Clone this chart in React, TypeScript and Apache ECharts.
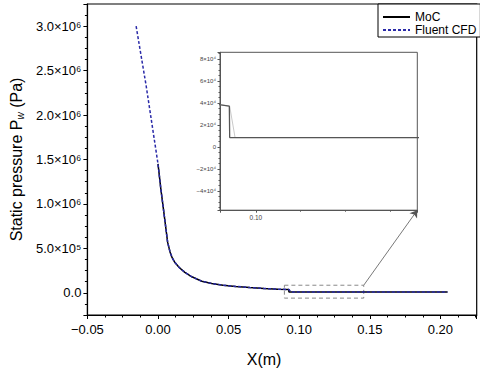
import React, { useEffect, useRef } from "react";
import * as echarts from "echarts";

// MoC (Method of Characteristics) wall pressure
const mocX = [0, 0.002, 0.0045, 0.0068, 0.0085, 0.01, 0.012, 0.015, 0.019, 0.024, 0.031, 0.038, 0.046, 0.055, 0.065, 0.075, 0.085, 0.0926, 0.0927, 0.205];
const mocP = [1.45e6, 1.17e6, 8.6e5, 5.7e5, 4.6e5, 3.95e5, 3.4e5, 2.85e5, 2.3e5, 1.8e5, 1.3e5, 1.05e5, 8.6e4, 7.2e4, 5.9e4, 4.9e4, 4.1e4, 3.7e4, 8.5e3, 8.5e3];
// Fluent CFD wall pressure
const cfdX = [-0.0155, -0.0084, 0, 0.002, 0.0045, 0.0068, 0.0085, 0.01, 0.012, 0.015, 0.019, 0.024, 0.031, 0.038, 0.046, 0.055, 0.065, 0.075, 0.085, 0.0927, 0.0942, 0.205];
const cfdP = [3.0e6, 2.33e6, 1.45e6, 1.17e6, 8.6e5, 5.7e5, 4.6e5, 3.95e5, 3.4e5, 2.85e5, 2.3e5, 1.8e5, 1.3e5, 1.05e5, 8.6e4, 7.2e4, 5.9e4, 4.9e4, 4.1e4, 3.7e4, 8.5e3, 8.5e3];
// zoomed region (dashed box)
const zoomBoxX = [0.0895, 0.1457, 0.1457, 0.0895, 0.0895];
const zoomBoxP = [8.5e4, 8.5e4, -6.0e4, -6.0e4, 8.5e4];
// axis extents
const mainXRange = [-0.05, 0.2257];
const mainPRange = [-2.5e5, 3.25e6];
const insetXRange = [0.09, 0.145];
const insetPRange = [-5.75e4, 8.6e4];
const legendNames = ["MoC", "Fluent CFD"];

const SUP: Record<string, string> = { "0": "⁰", "1": "¹", "2": "²", "3": "³", "4": "⁴", "5": "⁵", "6": "⁶", "7": "⁷", "8": "⁸", "9": "⁹", "-": "⁻" };
const sup = (n: number) => String(n).split("").map((c) => SUP[c] || c).join("");

const zip = (xs: number[], ys: number[]) => xs.map((x, i) => [x, ys[i]]);

function mainYLabel(v: number) {
  if (Math.abs(v) < 1e-9) return "0.0";
  const e = Math.floor(Math.log10(Math.abs(v)) + 1e-9);
  const m = v / Math.pow(10, e);
  return m.toFixed(1) + "×10" + sup(e);
}
function insetYLabel(v: number) {
  if (Math.abs(v) < 1e-9) return "0";
  const m = Math.round(v / 1e4);
  return (m < 0 ? "−" + Math.abs(m) : String(m)) + "×10⁴";
}
function xLabel(v: number) {
  return v < 0 ? "−" + Math.abs(v).toFixed(2) : v.toFixed(2);
}

export default function App() {
  const ref = useRef<HTMLDivElement>(null);
  useEffect(() => {
    if (!ref.current) return;
    const chart = echarts.init(ref.current, null, { renderer: "svg" });
    const font = "'Liberation Sans', Arial, sans-serif";
    const option: any = {
      animation: false,
      textStyle: { fontFamily: font },
      legend: {
        data: legendNames,
        orient: "vertical",
        left: 378,
        top: 4,
        itemWidth: 27,
        itemHeight: 12,
        itemGap: 1,
        padding: [7, 4, 1, 4],
        borderColor: "#000",
        borderWidth: 1,
        backgroundColor: "#fff",
        itemStyle: { opacity: 0 },
        textStyle: { fontSize: 12, color: "#000", fontFamily: font },
      },
      grid: [
        { left: 83, top: 4, right: 3.3, bottom: 51.5, show: true, borderColor: "#000", borderWidth: 1.2, backgroundColor: "transparent" },
        { left: 220, top: 52.3, right: 62.7, bottom: 161.8, show: true, borderColor: "#555", borderWidth: 1, backgroundColor: "#fff" },
      ],
      xAxis: [
        {
          type: "value", gridIndex: 0, min: mainXRange[0], max: mainXRange[1], interval: 0.05,
          axisLine: { show: true, onZero: false, lineStyle: { color: "#000", width: 1.2 } },
          axisTick: { show: true, length: 4, lineStyle: { color: "#000" } },
          minorTick: { show: true, splitNumber: 4, length: 2.5, lineStyle: { color: "#000" } },
          splitLine: { show: false },
          axisLabel: { fontSize: 13, color: "#000", margin: 8, showMaxLabel: false, formatter: xLabel, fontFamily: font },
          name: "X(m)", nameLocation: "middle", nameGap: 36,
          nameTextStyle: { fontSize: 16, color: "#000", padding: [0, 36, 0, 0], fontFamily: font },
        },
        {
          type: "value", gridIndex: 1, min: insetXRange[0], max: insetXRange[1], splitNumber: 1,
          axisLine: { show: true, onZero: false, lineStyle: { color: "#555", width: 1 } },
          axisTick: { show: true, length: 2.5, lineStyle: { color: "#555" } },
          minorTick: { show: true, splitNumber: 4, length: 1.5, lineStyle: { color: "#555" } },
          splitLine: { show: false },
          axisLabel: { fontSize: 6.5, color: "#444", margin: 4, showMinLabel: false, showMaxLabel: false, formatter: (v: number) => v.toFixed(2), fontFamily: font },
        },
      ],
      yAxis: [
        {
          type: "value", gridIndex: 0, min: mainPRange[0], max: mainPRange[1], splitNumber: 7,
          axisLine: { show: true, onZero: false, lineStyle: { color: "#000", width: 1.2 } },
          axisTick: { show: true, length: 4, lineStyle: { color: "#000" } },
          minorTick: { show: true, splitNumber: 4, length: 2.5, lineStyle: { color: "#000" } },
          splitLine: { show: false },
          axisLabel: { fontSize: 13, color: "#000", margin: 6, showMinLabel: false, showMaxLabel: false, formatter: mainYLabel, fontFamily: font },
          name: "{a|Static pressure P}{b|w}{a| (Pa)}", nameLocation: "middle", nameGap: 62, nameRotate: 90,
          nameTextStyle: {
            color: "#000",
            rich: {
              a: { fontSize: 16, color: "#000", fontFamily: font, lineHeight: 18 },
              b: { fontSize: 10, color: "#000", fontFamily: font, fontStyle: "italic", lineHeight: 18, verticalAlign: "bottom" },
            },
          },
        },
        {
          type: "value", gridIndex: 1, min: insetPRange[0], max: insetPRange[1], splitNumber: 7,
          axisLine: { show: true, onZero: false, lineStyle: { color: "#555", width: 1 } },
          axisTick: { show: true, length: 2.5, lineStyle: { color: "#555" } },
          minorTick: { show: true, splitNumber: 4, length: 1.5, lineStyle: { color: "#555" } },
          splitLine: { show: false },
          axisLabel: { fontSize: 6, color: "#444", margin: 4, showMinLabel: false, showMaxLabel: false, formatter: insetYLabel, fontFamily: font },
        },
      ],
      series: [
        {
          name: "MoC", type: "line", xAxisIndex: 0, yAxisIndex: 0, data: zip(mocX, mocP),
          symbol: "none", color: "#000", lineStyle: { color: "#000", width: 1.5 }, z: 3,
        },
        {
          name: "Fluent CFD", type: "line", xAxisIndex: 0, yAxisIndex: 0, data: zip(cfdX, cfdP),
          symbol: "none", color: "#2a2aa8", lineStyle: { color: "#2a2aa8", width: 1.5, type: [3, 2] }, z: 4,
        },
        {
          id: "box", name: "box", type: "line", xAxisIndex: 0, yAxisIndex: 0, data: zip(zoomBoxX, zoomBoxP),
          symbol: "none", silent: true, color: "#888", lineStyle: { color: "#888", width: 1, type: [4, 3] }, z: 2,
        },
        {
          name: "CFD inset", type: "line", xAxisIndex: 1, yAxisIndex: 1, data: zip(cfdX, cfdP), clip: true,
          symbol: "none", silent: true, color: "#bbb", lineStyle: { color: "#bbb", width: 0.8 }, z: 3,
        },
        {
          name: "MoC inset", type: "line", xAxisIndex: 1, yAxisIndex: 1, data: zip(mocX, mocP), clip: true,
          symbol: "none", silent: true, color: "#555", lineStyle: { color: "#555", width: 1.3 }, z: 4,
        },
      ],
    };
    chart.setOption(option);
    const cornerPx = chart.convertToPixel({ xAxisIndex: 1, yAxisIndex: 1 } as any, [insetXRange[1], insetPRange[0]]) as number[];
    const cornerMain = chart.convertFromPixel({ xAxisIndex: 0, yAxisIndex: 0 } as any, cornerPx) as number[];
    chart.setOption({
      series: [
        {
          id: "box",
          markLine: {
            silent: true,
            symbol: ["none", "arrow"],
            symbolSize: 7,
            label: { show: false },
            lineStyle: { color: "#555", width: 0.8, type: "solid" },
            data: [[{ coord: [zoomBoxX[1], zoomBoxP[0]] }, { coord: cornerMain }]],
          },
        },
      ],
    });
    return () => chart.dispose();
  }, []);
  return <div ref={ref} style={{ position: "absolute", left: 0, top: 0, width: 480, height: 372 }} />;
}
